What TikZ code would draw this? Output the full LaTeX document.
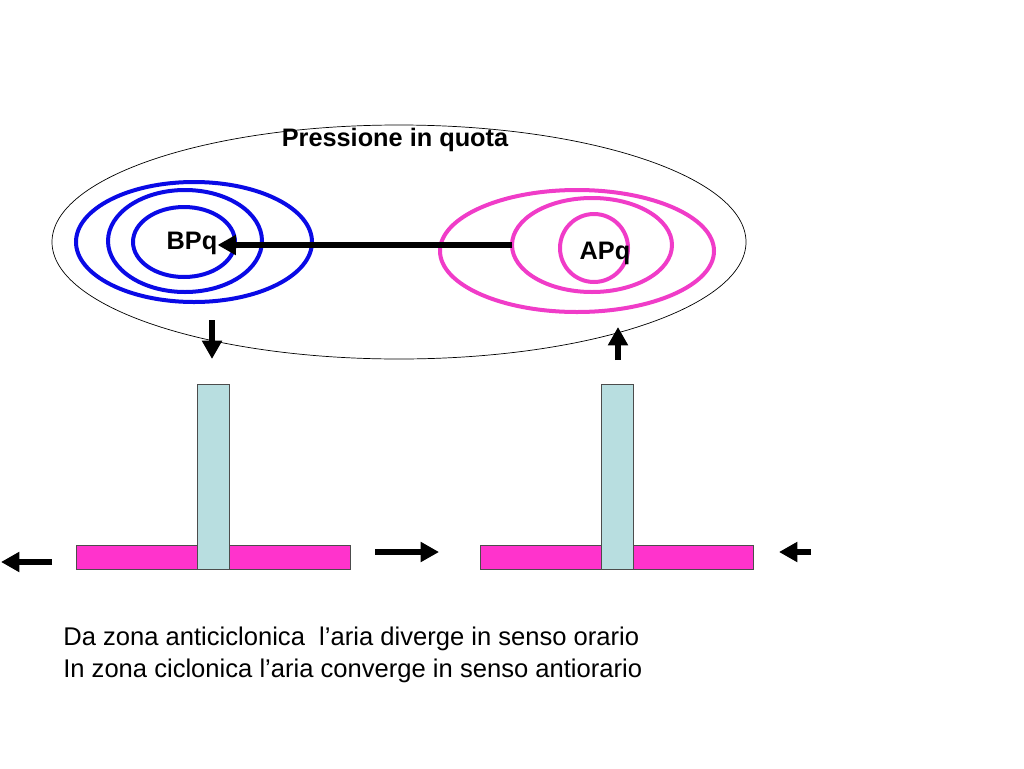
\documentclass[tikz,border=0pt]{standalone}
\usepackage{fontspec}
\setmainfont{Liberation Sans}
\usetikzlibrary{arrows.meta}
\definecolor{isoblue}{RGB}{10,10,230}
\definecolor{isopink}{RGB}{240,60,200}
\definecolor{barpink}{RGB}{255,51,204}
\definecolor{colblue}{RGB}{184,222,224}
\tikzset{
  iso/.style={line width=1mm},
  flow/.style={line width=1.6mm, -{Triangle[length=4.6mm,width=4.8mm]}},
  column/.style={fill=colblue, draw=black!70, line width=0.3pt},
  ground/.style={fill=barpink, draw=black!70, line width=0.3pt},
  label/.style={font=\bfseries\fontsize{18}{21}\selectfont, inner sep=0pt},
  riga/.style={anchor=base west, inner sep=0pt, font=\fontsize{18.2}{21}\selectfont}
}
\begin{document}
\begin{tikzpicture}[x=0.25mm, y=-0.25mm]
		\useasboundingbox (0,0) rectangle (1024,768);
		% pressione in quota
		\draw [line width=0.5pt] (399,242) ellipse [x radius=347, y radius=117];
		\node [label] (titolo) at (395,140) {Pressione in quota};
		
		\begin{scope} [iso, isoblue]
		\draw (194,242) ellipse [x radius=118, y radius=60];
		\draw (185,241) ellipse [x radius=77, y radius=51];
		\draw (184,242) ellipse [x radius=51, y radius=35];
		\end{scope}
		
		\begin{scope} [iso, isopink]
		\draw (577,251) ellipse [x radius=137, y radius=61];
		\draw (592,245) ellipse [x radius=80, y radius=47];
		\draw (594,248) ellipse [x radius=34, y radius=34];
		\end{scope}
		
		\node [label] (BPq) at (192,243) {BPq};
		\node [label] (APq) at (605,253) {APq};
		
		\coordinate (aStart) at (512,245);
		\draw [flow] (aStart) -- (BPq.east |- aStart);
		
		% colonne
		\draw [ground] (76,545) rectangle (350,569);
		\draw [ground] (480,545) rectangle (753,569);
		\draw [column] (197,384) rectangle (229,569);
		\draw [column] (601,384) rectangle (633,569);
		
		\coordinate (dTop) at (212,320);
		\coordinate (dBot) at (212,359);
		\coordinate (uBot) at (618,360);
		\coordinate (uTop) at (618,327);
		\draw [flow] (dTop) -- (dBot);
		\draw [flow] (uBot) -- (uTop);
		
		\coordinate (lA) at (52,562);
		\coordinate (lB) at (1,562);
		\coordinate (mA) at (375,552);
		\coordinate (mB) at (439,552);
		\coordinate (rA) at (811,552);
		\coordinate (rB) at (779,552);
		\draw [flow] (lA) -- (lB);
		\draw [flow] (mA) -- (mB);
		\draw [flow] (rA) -- (rB);
		
		\node [riga] (riga1) at (63,645) {Da zona anticiclonica\ \ l’aria diverge in senso orario};
		\node [riga] (riga2) at (63,677) {In zona ciclonica l’aria converge in senso antiorario};
\end{tikzpicture}
\end{document}
